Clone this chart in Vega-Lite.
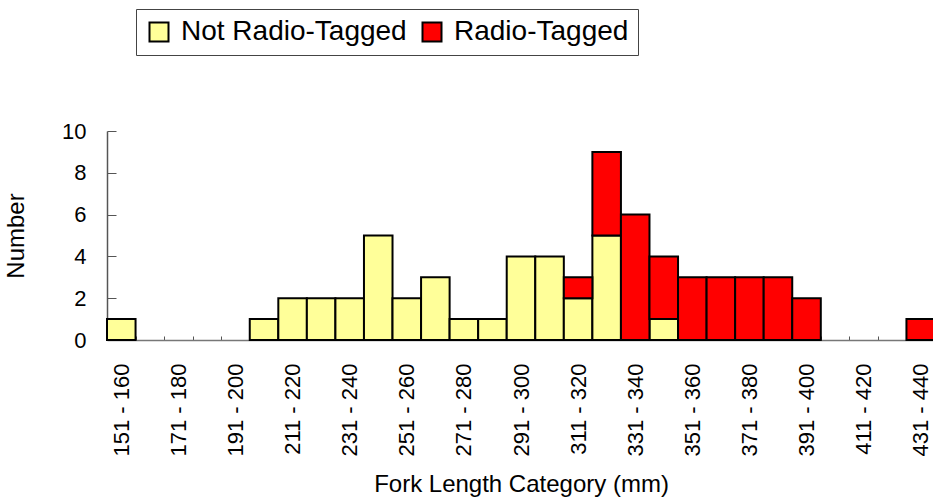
{
  "$schema": "https://vega.github.io/schema/vega-lite/v6.json",
  "autosize": {"type": "none"},
  "padding": {"left": 107, "top": 131, "right": 0, "bottom": 160},
  "width": 828,
  "height": 209,
  "background": "white",
  "config": {
    "font": "Liberation Sans",
    "view": {"stroke": null}
  },
  "data": {
    "values": [
      {"cat": "151 - 160", "group": "Not Radio-Tagged", "ord": 0, "n": 1},
      {"cat": "201 - 210", "group": "Not Radio-Tagged", "ord": 0, "n": 1},
      {"cat": "211 - 220", "group": "Not Radio-Tagged", "ord": 0, "n": 2},
      {"cat": "221 - 230", "group": "Not Radio-Tagged", "ord": 0, "n": 2},
      {"cat": "231 - 240", "group": "Not Radio-Tagged", "ord": 0, "n": 2},
      {"cat": "241 - 250", "group": "Not Radio-Tagged", "ord": 0, "n": 5},
      {"cat": "251 - 260", "group": "Not Radio-Tagged", "ord": 0, "n": 2},
      {"cat": "261 - 270", "group": "Not Radio-Tagged", "ord": 0, "n": 3},
      {"cat": "271 - 280", "group": "Not Radio-Tagged", "ord": 0, "n": 1},
      {"cat": "281 - 290", "group": "Not Radio-Tagged", "ord": 0, "n": 1},
      {"cat": "291 - 300", "group": "Not Radio-Tagged", "ord": 0, "n": 4},
      {"cat": "301 - 310", "group": "Not Radio-Tagged", "ord": 0, "n": 4},
      {"cat": "311 - 320", "group": "Not Radio-Tagged", "ord": 0, "n": 2},
      {"cat": "321 - 330", "group": "Not Radio-Tagged", "ord": 0, "n": 5},
      {"cat": "341 - 350", "group": "Not Radio-Tagged", "ord": 0, "n": 1},
      {"cat": "311 - 320", "group": "Radio-Tagged", "ord": 1, "n": 1},
      {"cat": "321 - 330", "group": "Radio-Tagged", "ord": 1, "n": 4},
      {"cat": "331 - 340", "group": "Radio-Tagged", "ord": 1, "n": 6},
      {"cat": "341 - 350", "group": "Radio-Tagged", "ord": 1, "n": 3},
      {"cat": "351 - 360", "group": "Radio-Tagged", "ord": 1, "n": 3},
      {"cat": "361 - 370", "group": "Radio-Tagged", "ord": 1, "n": 3},
      {"cat": "371 - 380", "group": "Radio-Tagged", "ord": 1, "n": 3},
      {"cat": "381 - 390", "group": "Radio-Tagged", "ord": 1, "n": 3},
      {"cat": "391 - 400", "group": "Radio-Tagged", "ord": 1, "n": 2},
      {"cat": "431 - 440", "group": "Radio-Tagged", "ord": 1, "n": 1}
    ]
  },
  "mark": {"type": "bar", "stroke": "black", "strokeWidth": 2},
  "encoding": {
    "x": {
      "field": "cat",
      "type": "nominal",
      "scale": {
        "domain": ["151 - 160", "161 - 170", "171 - 180", "181 - 190", "191 - 200", "201 - 210", "211 - 220", "221 - 230", "231 - 240", "241 - 250", "251 - 260", "261 - 270", "271 - 280", "281 - 290", "291 - 300", "301 - 310", "311 - 320", "321 - 330", "331 - 340", "341 - 350", "351 - 360", "361 - 370", "371 - 380", "381 - 390", "391 - 400", "401 - 410", "411 - 420", "421 - 430", "431 - 440"],
        "paddingInner": 0,
        "paddingOuter": 0
      },
      "axis": {
        "title": "Fork Length Category (mm)",
        "titleFontSize": 24,
        "titleFontWeight": "normal",
        "titleColor": "black",
        "titlePadding": 17,
        "labelAngle": -90,
        "labelAlign": "right",
        "labelBaseline": "middle",
        "labelFontSize": 22,
        "labelColor": "black",
        "labelPadding": 27,
        "labelExpr": "toNumber(substring(datum.value,0,3)) % 20 == 11 ? datum.label : ''",
        "tickBand": "extent",
        "tickSize": -4,
        "tickColor": "#555555",
        "domainColor": "#777777",
        "domainWidth": 1.5
      }
    },
    "y": {
      "field": "n",
      "type": "quantitative",
      "stack": "zero",
      "scale": {"domain": [0, 10]},
      "axis": {
        "title": "Number",
        "titleFontSize": 24,
        "titleFontWeight": "normal",
        "titleColor": "black",
        "titlePadding": 33,
        "values": [0, 2, 4, 6, 8, 10],
        "grid": false,
        "labelFontSize": 22,
        "labelColor": "black",
        "labelPadding": 30,
        "tickSize": -9,
        "tickColor": "#555555",
        "domainColor": "#555555",
        "domainWidth": 1.5
      }
    },
    "order": {"field": "ord", "type": "quantitative"},
    "color": {
      "field": "group",
      "type": "nominal",
      "scale": {"domain": ["Not Radio-Tagged", "Radio-Tagged"], "range": ["#FFFF99", "#FF0000"]},
      "legend": {
        "title": null,
        "orient": "none",
        "legendX": 29,
        "legendY": -122,
        "direction": "horizontal",
        "symbolType": "square",
        "symbolSize": 361,
        "symbolStrokeColor": "black",
        "symbolStrokeWidth": 2,
        "labelFontSize": 28,
        "labelColor": "black",
        "labelLimit": 400,
        "columnPadding": 11,
        "labelOffset": 8,
        "padding": 9,
        "strokeColor": "#444444",
        "fillColor": "white"
      }
    }
  }
}
